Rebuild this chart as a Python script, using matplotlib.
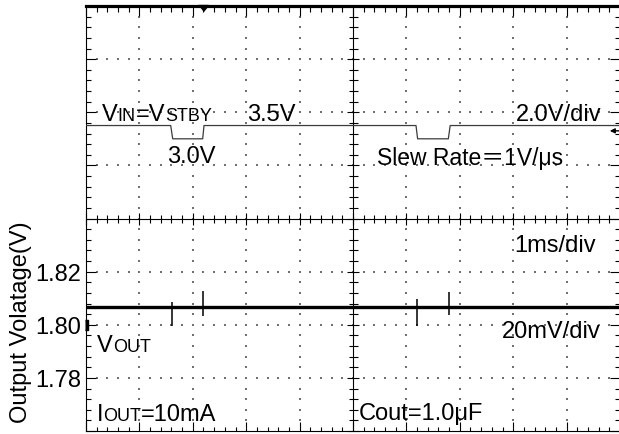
import matplotlib
matplotlib.use('Agg')
import matplotlib.pyplot as plt
import matplotlib.transforms as mtransforms
from matplotlib.collections import LineCollection

# scope capture: 1 ms/div horizontally, 10 x 8 divisions
# CH1 = VIN (2.0 V/div), CH2 = VOUT (20 mV/div)
time_in = [0.0, 1.586, 1.624, 2.185, 2.21, 6.18, 6.21, 6.785, 6.82, 10.0]
vin = [3.5, 3.5, 3.0, 3.0, 3.5, 3.5, 3.0, 3.0, 3.5, 3.5]

time_out = [0.0, 10.0]
vout = [1.8065, 1.8065]

# small transients on VOUT at each VIN edge
spike_t = [1.61, 2.19, 6.20, 6.80]
spike_hi = [1.8085, 1.8127, 1.8096, 1.8124]
spike_lo = [1.7995, 1.8032, 1.7995, 1.8035]

vout_ticks = [1.78, 1.80, 1.82]
trigger_t = 2.2
trigger_level = 3.3
ch2_ref = 1.80

W, H = 619, 435
plt.rcParams['font.family'] = ['Liberation Sans', 'Noto Sans CJK JP', 'DejaVu Sans']

fig = plt.figure(figsize=(W / 100, H / 100), dpi=100)
ax = fig.add_axes([86 / W, 3 / H, 534 / W, 425 / H])
ax.set_xlim(0, 10)
ax.set_ylim(1.76, 1.92)
AW, AH = 534.0, 425.0

# frame
for side in ['left', 'bottom', 'right']:
    ax.spines[side].set_linewidth(0.8)
ax.spines['top'].set_linewidth(2.3)
ax.set_xticks([])
ax.set_yticks(vout_ticks)
ax.set_yticklabels([f'{v:.2f}' for v in vout_ticks])
ax.tick_params(axis='y', length=0, pad=3.5, labelsize=17)

# graticule dots
dx, dy = [], []
for i in range(1, 10):
    if i == 5:
        continue
    for k in range(1, 40):
        dx.append(i / 10)
        dy.append(k / 40)
for j in range(1, 8):
    if j == 4:
        continue
    for k in range(1, 50):
        dx.append(k / 50)
        dy.append(j / 8)
ax.scatter(dx, dy, s=1.4, marker='s', color='#707070', linewidths=0,
           transform=ax.transAxes, zorder=1)

# center cross and tick marks
segs = [[(0, 0.5), (1, 0.5)], [(0.5, 0), (0.5, 1)]]
for k in range(51):
    x = k / 50
    major = k % 5 == 0
    h = (6 if major else 4) / AH
    segs.append([(x, 0.5 - h), (x, 0.5 + h)])
    segs.append([(x, 1), (x, 1 - (10 if major else 6) / AH)])
    segs.append([(x, 0), (x, (9 if major else 4) / AH)])
for k in range(41):
    y = k / 40
    major = k % 5 == 0
    w = (6 if major else 4.5) / AW
    segs.append([(0.5 - w, y), (0.5 + w, y)])
    L = (10 if major else 5) / AW
    segs.append([(0, y), (L, y)])
    segs.append([(1 - L, y), (1, y)])
ax.add_collection(LineCollection(segs, colors='k', linewidths=0.8,
                                 transform=ax.transAxes, clip_on=False, zorder=2))

# VOUT trace
ax.plot(time_out, vout, color='k', lw=2.4, solid_capstyle='butt', zorder=4)
ax.vlines(spike_t, spike_lo, spike_hi, color='k', lw=1.1, zorder=4)

# CH2 reference marker
ax.plot([0], [ch2_ref], marker=[(-0.3, -1), (0.3, -1), (0.3, 1), (-0.3, 1)],
        ms=7.2, color='k', clip_on=False, zorder=5)

# trigger position marker on top edge
trans = mtransforms.blended_transform_factory(ax.transData, ax.transAxes)
ax.plot([trigger_t], [1.0], marker=[(-1, 0.2), (1, 0.2), (0, -1)], ms=7.2,
        color='k', transform=trans, clip_on=False, zorder=6)

# VIN trace on its own scale
ax_in = ax.twinx()
ax_in.set_ylim(-8, 8)
ax_in.axis('off')
ax_in.plot(time_in, vin, color='#3c3c3c', lw=0.9, zorder=3)
ax_in.annotate('', xy=(9.757, trigger_level), xytext=(10.05, trigger_level),
               arrowprops=dict(arrowstyle='-|>', color='k', lw=1.0, mutation_scale=7),
               annotation_clip=False)

# text, placed in pixel coordinates (x from left, baseline y from top)
renderer = fig.canvas.get_renderer()


def label(x, y, parts):
    for s, size in parts:
        t = fig.text(x / W, 1 - y / H, s, fontsize=size, ha='left', va='baseline')
        x += t.get_window_extent(renderer).width


big, small = 17, 13
label(102, 121, [('V', big), ('IN', small), ('=V', big), ('STBY', small)])
label(247, 121, [('3.5V', big)])
label(167, 163, [('3.0V', big)])
label(516, 121, [('2.0V/div', big)])
label(377, 165, [('Slew Rate＝1V/μs', 16.5)])
label(514, 252, [('1ms/div', big)])
label(502, 338, [('20mV/div', big)])
label(97, 352, [('V', big), ('OUT', small)])
label(97, 421, [('I', big), ('OUT', small), ('=10mA', big)])
label(359, 420, [('Cout=1.0μF', big)])

fig.text(21 / W, 1 - 322 / H, 'Output Volatage(V)', fontsize=17, rotation=90,
         ha='center', va='center')

fig.savefig('out.png', dpi=100)
